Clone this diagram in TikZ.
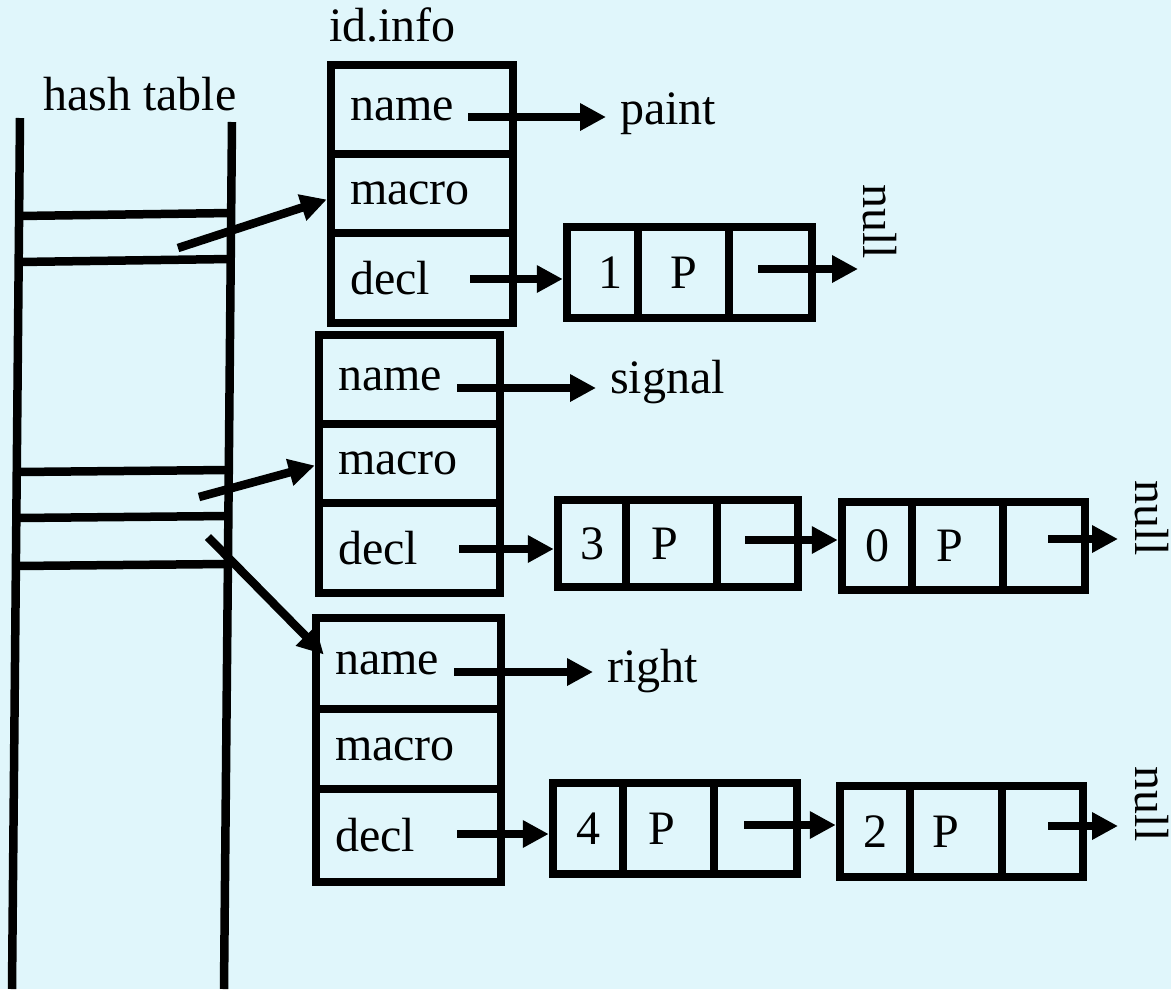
\documentclass[tikz,border=0pt]{standalone}
\usepackage{fontspec}
\setmainfont{Liberation Serif}
\usetikzlibrary{arrows.meta,calc}
\definecolor{bgc}{RGB}{224,246,251}
\begin{document}
\begin{tikzpicture}[x=1pt,y=-1pt,
  every node/.style={font=\fontsize{48}{58}\selectfont},
  ln/.style={line width=8.5pt},
  arr/.style={line width=8.5pt,-{Triangle[length=26pt,width=26pt]}},
  field/.style={draw,line width=8.5pt,inner xsep=19pt,inner ysep=0pt,align=left},
  cell/.style={draw,line width=8.5pt,inner sep=0pt},
  lbl/.style={anchor=base west,inner xsep=14pt,inner ysep=0pt},
  nul/.style={rotate=-90,anchor=south,inner xsep=0pt}]
\fill[bgc] (0,0) rectangle (1171,989);
\useasboundingbox (0,0) rectangle (1171,989);

% hash table
\draw[ln] (20,118) -- (12,989);
\draw[ln] (232,122) -- (224,989);
\draw[ln] (19,216) -- (231,213);
\draw[ln] (19,262) -- (231,259);
\draw[ln] (17,472) -- (229,470);
\draw[ln] (17,518) -- (229,516);
\draw[ln] (16,566) -- (228,564);
\node[anchor=base west,inner sep=0pt] (ht) at (43,110) {hash table};
\node[anchor=base west,inner sep=0pt] (idinfo) at (329,41) {id.info};

% id.info box 1
\node[field,text width=144pt,minimum height=89pt] (b1n) at (422,109.5) {name};
\node[field,text width=144pt,minimum height=79pt] (b1m) at (422,193.5) {macro};
\node[field,text width=144pt,minimum height=90pt] (b1d) at (422,278) {decl};
% box 2
\node[field,text width=143pt,minimum height=89pt] (b2n) at (409.5,379.5) {name};
\node[field,text width=143pt,minimum height=79pt] (b2m) at (409.5,463.5) {macro};
\node[field,text width=143pt,minimum height=90pt] (b2d) at (409.5,548) {decl};
% box 3
\node[field,text width=147pt,minimum height=91pt] (b3n) at (408.5,663.5) {name};
\node[field,text width=147pt,minimum height=80pt] (b3m) at (408.5,749) {macro};
\node[field,text width=147pt,minimum height=93pt] (b3d) at (408.5,835.5) {decl};

% records
\node[cell,minimum width=71pt,minimum height=91pt] (r1a) at (602.5,272.5) {\hspace*{16pt}1};
\node[cell,minimum width=91pt,minimum height=91pt] (r1b) at (683.5,272.5) {P};
\node[cell,minimum width=83pt,minimum height=91pt] (r1c) at (770.5,272.5) {};

\node[cell,minimum width=68pt,minimum height=87pt] (r2a) at (592,543.5) {3};
\node[cell,minimum width=91pt,minimum height=87pt] (r2b) at (671.5,543.5) {P\hspace*{14pt}};
\node[cell,minimum width=81pt,minimum height=87pt] (r2c) at (757.5,543.5) {};

\node[cell,minimum width=70pt,minimum height=88pt] (r2d) at (877,546) {0};
\node[cell,minimum width=91pt,minimum height=88pt] (r2e) at (957.5,546) {P\hspace*{16pt}};
\node[cell,minimum width=82pt,minimum height=88pt] (r2f) at (1044,546) {};

\node[cell,minimum width=70pt,minimum height=91pt] (r3a) at (588,828.5) {4};
\node[cell,minimum width=91pt,minimum height=91pt] (r3b) at (668.5,828.5) {P\hspace*{14pt}};
\node[cell,minimum width=83pt,minimum height=91pt] (r3c) at (755.5,828.5) {};

\node[cell,minimum width=70pt,minimum height=91pt] (r3d) at (875,831.5) {2};
\node[cell,minimum width=92pt,minimum height=91pt] (r3e) at (956,831.5) {P\hspace*{20pt}};
\node[cell,minimum width=81pt,minimum height=91pt] (r3f) at (1042.5,831.5) {};

% labels
\node[lbl] (paint) at (606,124) {paint};
\node[lbl] (signal) at (596,393) {signal};
\node[lbl] (right) at (593,682) {right};
\node[nul,inner ysep=5pt] (null1) at (858,221.5) {null};
\node[nul,inner ysep=17pt] (null2) at (1118,518) {null};
\node[nul,inner ysep=17pt] (null3) at (1118,804) {null};

% arrows from hash table
\coordinate (h1) at (178,248);
\coordinate (h2) at (199,497);
\coordinate (h3) at (208,537);
\draw[arr] (h1) -- ([yshift=-6pt]b1m.west);
\draw[arr] (h2) -- ([yshift=-2pt]b2m.west);
\draw[arr] (h3) -- ([shift={(12pt,9pt)}]b3n.west);

% box 1 arrows
\coordinate (a1) at (468,117);
\draw[arr] (a1) -- (a1 -| paint.west);
\coordinate (d1) at (470,279);
\draw[arr] (d1) -- (d1 -| r1a.west);
\coordinate (p1) at (758,269);
\draw[arr] (p1) -- (p1 -| null1.south);

% box 2 arrows
\coordinate (a2) at (457,388);
\draw[arr] (a2) -- (a2 -| signal.west);
\coordinate (d2) at (459,549);
\draw[arr] (d2) -- (d2 -| r2a.west);
\coordinate (p2) at (745,540);
\draw[arr] (p2) -- (p2 -| r2d.west);
\coordinate (p3) at (1048,539);
\draw[arr] (p3) -- (p3 -| null2.south);

% box 3 arrows
\coordinate (a3) at (454,672);
\draw[arr] (a3) -- (a3 -| right.west);
\coordinate (d3) at (457,834);
\draw[arr] (d3) -- (d3 -| r3a.west);
\coordinate (p4) at (744,825);
\draw[arr] (p4) -- (p4 -| r3d.west);
\coordinate (p5) at (1048,826);
\draw[arr] (p5) -- (p5 -| null3.south);
\end{tikzpicture}
\end{document}
